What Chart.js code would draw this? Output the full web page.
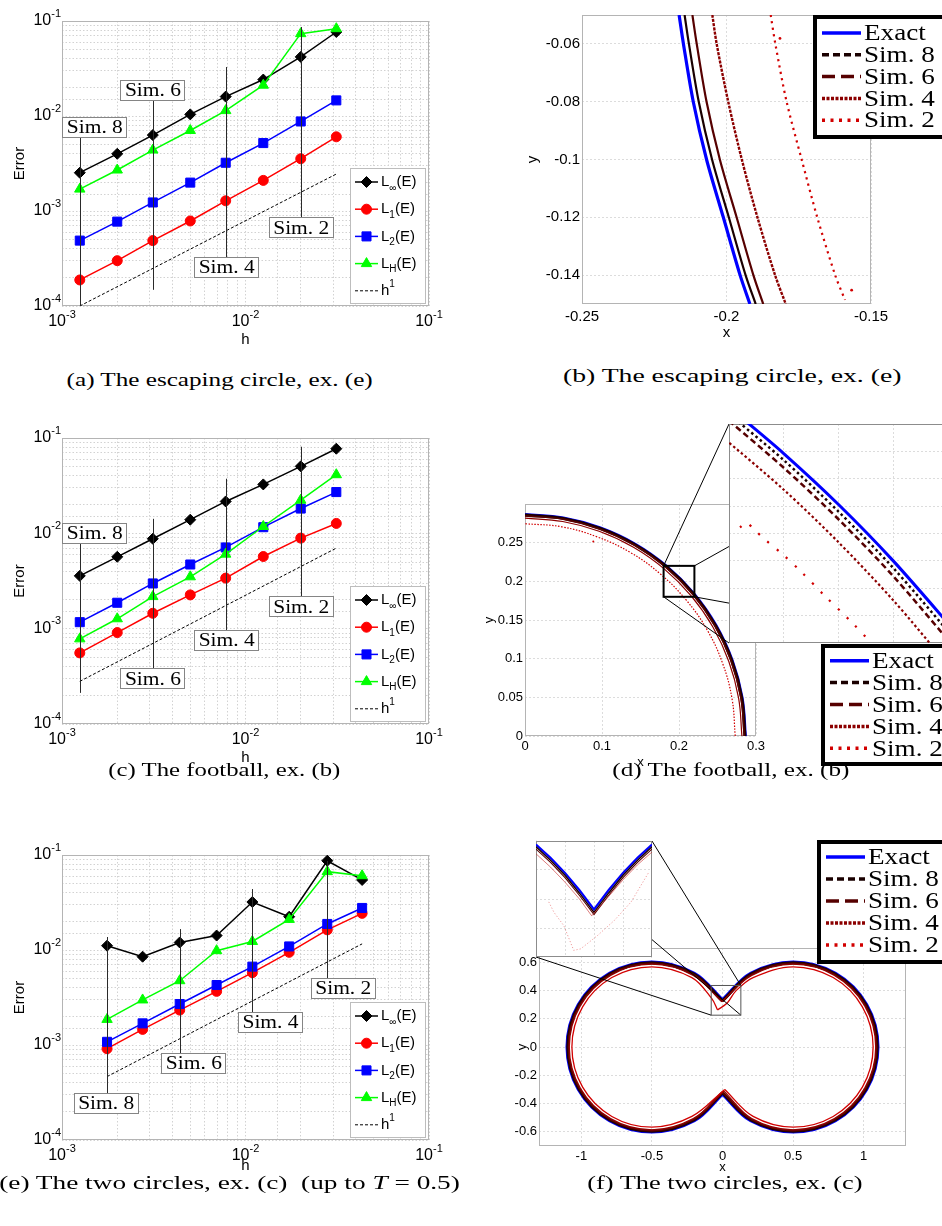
<!DOCTYPE html>
<html>
<head>
<meta charset="utf-8">
<title>Escaping circle, football and two circles</title>
<script src="https://cdn.jsdelivr.net/npm/chart.js@4.4.1/dist/chart.umd.min.js"></script>
<style>
  html, body { margin: 0; padding: 0; background: #fff; }
  body { position: relative; width: 942px; height: 1226px; overflow: hidden; }
  canvas { position: absolute; }
  .cap { position: absolute; width: 520px; text-align: center; white-space: nowrap; line-height: 22px;
         font-family: "Liberation Serif", "Times New Roman", serif; font-size: 19.5px; color: #000; }
  .cap span { display: inline-block; }
</style>
</head>
<body>
<canvas id="chartA"></canvas>
<canvas id="chartB"></canvas>
<canvas id="chartC"></canvas>
<canvas id="chartD"></canvas>
<canvas id="insetD"></canvas>
<canvas id="chartE"></canvas>
<canvas id="chartF"></canvas>
<canvas id="insetF"></canvas>

<div class="cap" style="left:-40px;top:369px"><span style="transform:scaleX(1.29)">(a) The escaping circle, ex. (e)</span></div>
<div class="cap" style="left:472px;top:365px"><span style="transform:scaleX(1.42)">(b) The escaping circle, ex. (e)</span></div>
<div class="cap" style="left:-36px;top:759px"><span style="transform:scaleX(1.27)">(c) The football, ex. (b)</span></div>
<div class="cap" style="left:471px;top:759px"><span style="transform:scaleX(1.29)">(d) The football, ex. (b)</span></div>
<div class="cap" style="left:-30px;top:1172px"><span style="transform:scaleX(1.40)">(e) The two circles, ex. (c)&nbsp;&nbsp;(up to <i>T</i> = 0.5)</span></div>
<div class="cap" style="left:465px;top:1172px"><span style="transform:scaleX(1.35)">(f) The two circles, ex. (c)</span></div>

<script>
// ---------- error plots (a), (c), (e) ----------
const hA = [0.00125, 0.002, 0.003125, 0.005, 0.0078, 0.0125, 0.02, 0.03125];
const aLinf = [2.53e-3, 4.0e-3, 6.3e-3, 1.04e-2, 1.6e-2, 2.42e-2, 4.19e-2, 7.66e-2];
const aL1 = [1.88e-4, 3.0e-4, 4.88e-4, 7.85e-4, 1.28e-3, 2.1e-3, 3.55e-3, 6.04e-3];
const aL2 = [4.88e-4, 7.73e-4, 1.23e-3, 1.99e-3, 3.22e-3, 5.19e-3, 8.76e-3, 1.46e-2];
const aLH = [1.70e-3, 2.7e-3, 4.38e-3, 7.04e-3, 1.14e-2, 2.11e-2, 7.36e-2, 8.3e-2];
const aRefH = [0.00125, 0.03125];
const aRefE = [1.0e-4, 2.45e-3];

const hC = [0.00125, 0.002, 0.003125, 0.005, 0.0078, 0.0125, 0.02, 0.03125];
const cLinf = [3.58e-3, 5.67e-3, 8.77e-3, 1.39e-2, 2.16e-2, 3.26e-2, 5.04e-2, 7.72e-2];
const cL1 = [5.57e-4, 9.1e-4, 1.45e-3, 2.26e-3, 3.39e-3, 5.71e-3, 8.91e-3, 1.27e-2];
const cL2 = [1.17e-3, 1.87e-3, 2.98e-3, 4.71e-3, 7.11e-3, 1.16e-2, 1.82e-2, 2.71e-2];
const cLH = [7.82e-4, 1.27e-3, 2.17e-3, 3.50e-3, 6.05e-3, 1.18e-2, 2.23e-2, 4.12e-2];
const cRefH = [0.00125, 0.03125];
const cRefE = [2.8e-4, 7.0e-3];

const hE = [1.76e-3, 2.75e-3, 4.38e-3, 6.96e-3, 1.09e-2, 1.73e-2, 2.79e-2, 4.32e-2];
const eLinf = [1.11e-2, 8.5e-3, 1.2e-2, 1.42e-2, 3.2e-2, 2.24e-2, 8.7e-2, 5.46e-2];
const eL1 = [9.14e-4, 1.46e-3, 2.33e-3, 3.67e-3, 5.77e-3, 9.45e-3, 1.63e-2, 2.43e-2];
const eL2 = [1.08e-3, 1.69e-3, 2.70e-3, 4.28e-3, 6.68e-3, 1.09e-2, 1.88e-2, 2.77e-2];
const eLH = [1.86e-3, 2.98e-3, 4.75e-3, 9.84e-3, 1.23e-2, 2.1e-2, 6.68e-2, 6.05e-2];
const eRefH = [1.76e-3, 4.32e-2];
const eRefE = [4.65e-4, 1.16e-2];

// "Sim. n" call-outs: line x, far end of line, label anchor (all in data units)
const simLabels = ['Sim. 8', 'Sim. 6', 'Sim. 4', 'Sim. 2'];
const aNoteH = [0.00125, 0.003125, 0.0078, 0.02];
const aNoteEnd = [1.0e-4, 1.48e-4, 3.28e-2, 8.65e-2];
const aNoteX = [1.5e-3, 3.11e-3, 7.85e-3, 2.0e-2];
const aNoteY = [7.7e-3, 1.88e-2, 2.59e-4, 6.74e-4];
const cNoteH = [0.00125, 0.003125, 0.0078, 0.02];
const cNoteEnd = [2.12e-4, 1.42e-2, 3.74e-2, 8.1e-2];
const cNoteX = [1.5e-3, 3.11e-3, 7.85e-3, 2.0e-2];
const cNoteY = [1.01e-2, 3.02e-4, 7.65e-4, 1.72e-3];
const eNoteH = [1.76e-3, 4.38e-3, 1.09e-2, 2.79e-2];
const eNoteEnd = [1.37e-2, 1.66e-2, 4.38e-2, 8.65e-2];
const eNoteX = [1.73e-3, 5.2e-3, 1.36e-2, 3.39e-2];
const eNoteY = [2.48e-4, 6.54e-4, 1.75e-3, 3.98e-3];

const hDecades = [1e-3, 1e-2, 1e-1];
const hDecadeExp = ['-3', '-2', '-1'];
const errDecades = [1e-4, 1e-3, 1e-2, 1e-1];
const errDecadeExp = ['-4', '-3', '-2', '-1'];

const errKeys = [['L', '\u221e', '(E)', 'sub'], ['L', '1', '(E)', 'sub'], ['L', '2', '(E)', 'sub'],
                 ['L', 'H', '(E)', 'sub'], ['h', '1', '', 'sup']];
const errColors = ['#000000', '#ff0000', '#0000ff', '#00ff00'];
const errMarkers = ['rectRot', 'circle', 'rect', 'triangle'];
const errRadius = [5.5, 5, 6.4, 6];

// ---------- interface plots (b), (d), (f) ----------
const simNames = ['Exact', 'Sim. 8', 'Sim. 6', 'Sim. 4', 'Sim. 2'];
const simColors = ['#0000ff', '#1a0000', '#560000', '#8c0000', '#d20000'];
const simLegendDash = [[], [7, 4], [13, 6], [3, 1.5], [3, 5.5]];

// (b) escaping circle, close-up
const bY = [-0.05, -0.06, -0.08, -0.10, -0.12, -0.14, -0.15];
const bExactX = [-0.2164, -0.2149, -0.2115, -0.2069, -0.2011, -0.1953, -0.1919];
const bSim8X = [-0.2145, -0.2130, -0.2096, -0.2050, -0.1992, -0.1934, -0.1899];
const bSim6X = [-0.2118, -0.2103, -0.2069, -0.2023, -0.1965, -0.1907, -0.1873];
const bSim4X = [-0.2049, -0.2034, -0.1994, -0.1947, -0.1893, -0.1832, -0.1795];
const bSim2X = [-0.1847, -0.1831, -0.1792, -0.1740, -0.1686, -0.1624, -0.1590];
const bSim2Y = [-0.05, -0.06, -0.08, -0.10, -0.12, -0.14, -0.1486];
const bStrayX = [-0.1815, -0.1567];
const bStrayY = [-0.0581, -0.1452];

// (d) football, quarter arc
const dExactX = [0.2866, 0.2822, 0.2693, 0.2482, 0.2195, 0.1842, 0.1433, 0.0980, 0.0498, 0];
const dExactY = [0, 0.0498, 0.0980, 0.1433, 0.1842, 0.2195, 0.2482, 0.2693, 0.2822, 0.2866];
const dSim8X = [0.2857, 0.2814, 0.2685, 0.2474, 0.2189, 0.1836, 0.1429, 0.0977, 0.0496, 0];
const dSim8Y = [0, 0.0496, 0.0977, 0.1429, 0.1836, 0.2189, 0.2474, 0.2685, 0.2814, 0.2857];
const dSim6X = [0.2847, 0.2804, 0.2675, 0.2466, 0.2181, 0.1830, 0.1424, 0.0974, 0.0494, 0];
const dSim6Y = [0, 0.0494, 0.0974, 0.1424, 0.1830, 0.2181, 0.2466, 0.2675, 0.2804, 0.2847];
const dSim4X = [0.2817, 0.2774, 0.2647, 0.2440, 0.2158, 0.1811, 0.1409, 0.0963, 0.0489, 0];
const dSim4Y = [0, 0.0489, 0.0963, 0.1409, 0.1811, 0.2158, 0.2440, 0.2647, 0.2774, 0.2817];
const dSim2X = [0.2730, 0.2690, 0.2568, 0.2368, 0.2095, 0.1758, 0.1370, 0.0937, 0.0477, 0];
const dSim2Y = [0, 0.0474, 0.0935, 0.1368, 0.1756, 0.2095, 0.2372, 0.2575, 0.2705, 0.2745];
const dStrayX = [0.0887];
const dStrayY = [0.2515];
// (d) inset, [0.18, 0.22] x [0.18, 0.22]
const dInExactX = [0.182, 0.190, 0.200, 0.210, 0.222];
const dInExactY = [0.2214, 0.2146, 0.2053, 0.1950, 0.1813];
const dInSim8X = [0.181, 0.190, 0.200, 0.210, 0.222];
const dInSim8Y = [0.2210, 0.2134, 0.2040, 0.1937, 0.1798];
const dInSim6X = [0.180, 0.190, 0.200, 0.210, 0.222];
const dInSim6Y = [0.2206, 0.2120, 0.2026, 0.1922, 0.1782];
const dInSim4X = [0.178, 0.190, 0.200, 0.210, 0.220];
const dInSim4Y = [0.2183, 0.2080, 0.1984, 0.1878, 0.1760];
const dInSim2X = [0.1820, 0.1832, 0.1844, 0.1867, 0.1899, 0.1932, 0.1975, 0.2024, 0.2060];
const dInSim2Y = [0.2011, 0.2020, 0.2009, 0.1988, 0.1961, 0.1930, 0.1886, 0.1838, 0.1800];

// (f) two circles, right and left lobes
const fExactRX = [0.000, 0.200, 0.500, 0.800, 1.020, 1.100, 1.020, 0.800, 0.500, 0.200, 0.000];
const fExactLX = [0.000, -0.200, -0.500, -0.800, -1.020, -1.100, -1.020, -0.800, -0.500, -0.200, 0.000];
const fExactY = [0.332, 0.520, 0.600, 0.520, 0.300, 0, -0.300, -0.520, -0.600, -0.520, -0.332];
const fSim8RX = [0.000, 0.202, 0.500, 0.798, 1.016, 1.096, 1.016, 0.798, 0.500, 0.202, 0.000];
const fSim8LX = [0.000, -0.202, -0.500, -0.798, -1.016, -1.096, -1.016, -0.798, -0.500, -0.202, 0.000];
const fSim8Y = [0.326, 0.516, 0.596, 0.516, 0.298, 0, -0.298, -0.516, -0.596, -0.516, -0.324];
const fSim6RX = [0.000, 0.204, 0.500, 0.796, 1.013, 1.092, 1.013, 0.796, 0.500, 0.204, 0.000];
const fSim6LX = [0.000, -0.204, -0.500, -0.796, -1.013, -1.092, -1.013, -0.796, -0.500, -0.204, 0.000];
const fSim6Y = [0.322, 0.513, 0.592, 0.513, 0.296, 0, -0.296, -0.513, -0.592, -0.513, -0.320];
const fSim4RX = [-0.004, 0.207, 0.500, 0.793, 1.007, 1.086, 1.007, 0.793, 0.500, 0.207, 0.010];
const fSim4LX = [-0.004, -0.207, -0.500, -0.793, -1.007, -1.086, -1.007, -0.793, -0.500, -0.207, 0.010];
const fSim4Y = [0.320, 0.507, 0.586, 0.507, 0.293, 0, -0.293, -0.507, -0.586, -0.507, -0.312];
const fSim2RX = [-0.035, 0.035, 0.095, 0.217, 0.500, 0.784, 0.991, 1.067, 0.991, 0.784, 0.500, 0.217, 0.016];
const fSim2RY = [0.262, 0.313, 0.397, 0.491, 0.567, 0.491, 0.284, 0, -0.284, -0.491, -0.567, -0.491, -0.300];
const fSim2LX = [-0.035, -0.078, -0.217, -0.500, -0.784, -0.991, -1.067, -0.991, -0.784, -0.500, -0.217, 0.016];
const fSim2LY = [0.262, 0.345, 0.491, 0.567, 0.491, 0.284, 0, -0.284, -0.491, -0.567, -0.491, -0.300];
// (f) inset, [-0.1, 0.1] x [0.25, 0.45]
const fInX = [-0.1, -0.075, -0.05, -0.025, 0, 0.025, 0.05, 0.075, 0.1];
const fInExactY = [0.444, 0.421, 0.395, 0.365, 0.332, 0.365, 0.395, 0.421, 0.444];
const fInSim8Y = [0.440, 0.417, 0.391, 0.360, 0.327, 0.360, 0.391, 0.417, 0.440];
const fInSim6Y = [0.436, 0.413, 0.387, 0.356, 0.323, 0.356, 0.387, 0.413, 0.436];
const fInSim4X = [-0.1, -0.075, -0.05, -0.025, -0.004, 0.025, 0.05, 0.075, 0.1];
const fInSim4Y = [0.428, 0.405, 0.379, 0.350, 0.321, 0.354, 0.383, 0.409, 0.431];
const fInSim2X = [-0.078, -0.069, -0.052, -0.035, -0.023, 0.006, 0.035, 0.064, 0.095];
const fInSim2Y = [0.345, 0.327, 0.304, 0.2615, 0.264, 0.287, 0.313, 0.345, 0.397];

// tick labels of the linear plots
const bXTicks = [-0.25, -0.2, -0.15], bXLabels = ['-0.25', '-0.2', '-0.15'];
const bYTicks = [-0.14, -0.12, -0.1, -0.08, -0.06], bYLabels = ['-0.14', '-0.12', '-0.1', '-0.08', '-0.06'];
const dXTicks = [0, 0.1, 0.2, 0.3], dXLabels = ['0', '0.1', '0.2', '0.3'];
const dYTicks = [0, 0.05, 0.1, 0.15, 0.2, 0.25], dYLabels = ['0', '0.05', '0.1', '0.15', '0.2', '0.25'];
const fXTicks = [-1, -0.5, 0, 0.5, 1], fXLabels = ['-1', '-0.5', '0', '0.5', '1'];
const fYTicks = [-0.6, -0.4, -0.2, 0, 0.2, 0.4, 0.6], fYLabels = ['-0.6', '-0.4', '-0.2', '0', '0.2', '0.4', '0.6'];
const dInGridX = [0.19, 0.2, 0.21], dInGridY = [0.185, 0.19, 0.195, 0.2, 0.205, 0.21, 0.215];
const fInGridX = [-0.05, 0, 0.05], fInGridY = [0.3, 0.35, 0.4];

// ---------- drawing helpers ----------
const SANS = '"Liberation Sans", Arial, Helvetica, sans-serif';
const SERIF = '"Liberation Serif", "Times New Roman", serif';
const WIDE = 1.13;       // LaTeX roman runs a bit wider than Times
const GRID = '#d2d2d2';

Chart.defaults.font.family = SANS;

function pts(xs, ys) { return xs.map((x, i) => ({ x: x, y: ys[i] })); }

function wideText(ctx, text, x, y, size, align) {
  ctx.font = size + 'px ' + SERIF;
  const w = ctx.measureText(text).width * WIDE;
  const x0 = align === 'center' ? x - w / 2 : x;
  ctx.save();
  ctx.translate(x0, y);
  ctx.scale(WIDE, 1);
  ctx.textAlign = 'left';
  ctx.textBaseline = 'middle';
  ctx.fillText(text, 0, 0);
  ctx.restore();
  return w;
}

function powLabel(ctx, exp, x, y, align) {
  ctx.textAlign = 'left';
  ctx.textBaseline = 'middle';
  ctx.font = '16px ' + SANS;
  const wb = ctx.measureText('10').width;
  ctx.font = '11px ' + SANS;
  const we = ctx.measureText(exp).width;
  const x0 = align === 'right' ? x - wb - we : x - (wb + we) / 2;
  ctx.font = '16px ' + SANS;
  ctx.fillText('10', x0, y);
  ctx.font = '11px ' + SANS;
  ctx.fillText(exp, x0 + wb, y - 7.5);
}

// axes box (and white background for the insets)
const framePlugin = {
  id: 'frame',
  beforeDraw(chart, args, o) {
    if (!o.fill) return;
    const ctx = chart.ctx;
    ctx.save();
    ctx.fillStyle = '#fff';
    ctx.fillRect(0, 0, chart.width, chart.height);
    ctx.restore();
  },
  beforeDatasetsDraw(chart, args, o) {
    const a = chart.chartArea, ctx = chart.ctx;
    ctx.save();
    ctx.strokeStyle = o.color || '#b4b4b4';
    ctx.lineWidth = 1;
    ctx.strokeRect(Math.round(a.left) + 0.5, Math.round(a.top) + 0.5,
                   Math.round(a.right - a.left) - 1, Math.round(a.bottom - a.top) - 1);
    ctx.restore();
  }
};

// 10^n labels of the log axes
const decadePlugin = {
  id: 'decades',
  afterDraw(chart, args, o) {
    const ctx = chart.ctx, sx = chart.scales.x, sy = chart.scales.y, a = chart.chartArea;
    ctx.save();
    ctx.fillStyle = '#000';
    o.x.forEach((v, i) => powLabel(ctx, o.xExp[i], sx.getPixelForValue(v), a.bottom + 16, 'center'));
    o.y.forEach((v, i) => powLabel(ctx, o.yExp[i], a.left - 1, sy.getPixelForValue(v), 'right'));
    ctx.restore();
  }
};

// boxed "Sim. n" labels with their vertical lines
const notesPlugin = {
  id: 'simNotes',
  afterDatasetsDraw(chart, args, o) {
    const ctx = chart.ctx, sx = chart.scales.x, sy = chart.scales.y;
    ctx.save();
    o.notes.forEach(n => {
      const px = Math.round(sx.getPixelForValue(n.h)) + 0.5;
      const bx = sx.getPixelForValue(n.bx), by = sy.getPixelForValue(n.by);
      ctx.strokeStyle = '#2a2a2a';
      ctx.lineWidth = 1;
      ctx.beginPath();
      ctx.moveTo(px, sy.getPixelForValue(n.end));
      ctx.lineTo(px, by);
      ctx.stroke();
      ctx.font = '19px ' + SERIF;
      const w = Math.round(ctx.measureText(n.text).width * WIDE + 8), hgt = 20;
      const x0 = Math.round(bx - w / 2), y0 = Math.round(by - hgt / 2);
      ctx.fillStyle = '#fff';
      ctx.fillRect(x0, y0, w, hgt);
      ctx.strokeStyle = '#858585';
      ctx.strokeRect(x0 + 0.5, y0 + 0.5, w, hgt);
      ctx.fillStyle = '#000';
      wideText(ctx, n.text, bx + 0.5, by + 1.5, 19, 'center');
    });
    ctx.restore();
  }
};

// legend of the error plots, with sub/superscripts
const errLegendPlugin = {
  id: 'errLegend',
  afterDraw(chart, args, o) {
    const ctx = chart.ctx, a = chart.chartArea;
    const bx = Math.round(a.right - 4 - o.w), by = Math.round(a.bottom - 3 - o.h);
    ctx.save();
    ctx.fillStyle = '#fff';
    ctx.fillRect(bx, by, o.w, o.h);
    ctx.strokeStyle = '#bdbdbd';
    ctx.lineWidth = 1;
    ctx.strokeRect(bx + 0.5, by + 0.5, o.w, o.h);
    let row = 0;
    chart.data.datasets.forEach(ds => {
      if (!ds.key) return;
      const yy = by + 14 + row * 27.2;
      row++;
      ctx.strokeStyle = ds.borderColor;
      ctx.lineWidth = ds.borderWidth;
      ctx.setLineDash(ds.borderDash || []);
      ctx.beginPath();
      ctx.moveTo(bx + 5, yy);
      ctx.lineTo(bx + 28, yy);
      ctx.stroke();
      ctx.setLineDash([]);
      if (ds.pointRadius > 0) {
        ctx.fillStyle = ds.backgroundColor;
        ctx.lineWidth = 1;
        Chart.helpers.drawPoint(ctx, { pointStyle: ds.pointStyle, radius: ds.pointRadius, rotation: 0, borderWidth: 1 }, bx + 16.5, yy);
      }
      const [main, small, rest, kind] = ds.key;
      let tx = bx + 31;
      ctx.fillStyle = '#000';
      ctx.textAlign = 'left';
      ctx.textBaseline = 'middle';
      ctx.font = '15px ' + SANS;
      ctx.fillText(main, tx, yy);
      tx += ctx.measureText(main).width;
      ctx.font = '10px ' + SANS;
      ctx.fillText(small, tx, kind === 'sub' ? yy + 6 : yy - 7);
      tx += ctx.measureText(small).width;
      ctx.font = '15px ' + SANS;
      ctx.fillText(rest, tx, yy);
    });
    ctx.restore();
  }
};

// thick-framed legend of the interface plots
const simLegendPlugin = {
  id: 'simLegend',
  afterDraw(chart, args, o) {
    const ctx = chart.ctx;
    ctx.save();
    ctx.fillStyle = '#fff';
    ctx.fillRect(o.x, o.y, o.w, o.h);
    ctx.strokeStyle = '#000';
    ctx.lineWidth = 4;
    ctx.strokeRect(o.x, o.y, o.w, o.h);
    simNames.forEach((name, i) => {
      const yy = o.y + o.row0 + i * o.step;
      ctx.strokeStyle = simColors[i];
      ctx.lineWidth = 3.5;
      ctx.setLineDash(simLegendDash[i]);
      ctx.beginPath();
      ctx.moveTo(o.x + 7, yy);
      ctx.lineTo(o.x + 46, yy);
      ctx.stroke();
      ctx.setLineDash([]);
      ctx.fillStyle = '#000';
      wideText(ctx, name, o.x + 49, yy + 1, 24, 'left');
    });
    ctx.restore();
  }
};

// zoom rectangle and the lines joining it to the inset
const zoomPlugin = {
  id: 'zoomBox',
  afterDraw(chart, args, o) {
    const ctx = chart.ctx, sx = chart.scales.x, sy = chart.scales.y;
    const X0 = sx.getPixelForValue(o.box[0]), X1 = sx.getPixelForValue(o.box[1]);
    const Yt = sy.getPixelForValue(o.box[3]), Yb = sy.getPixelForValue(o.box[2]);
    const box = { tl: [X0, Yt], tr: [X1, Yt], br: [X1, Yb], bl: [X0, Yb] };
    const L = o.inset.left - o.origin.left, T = o.inset.top - o.origin.top, S = o.inset.size;
    const ins = { tl: [L, T], tr: [L + S, T], br: [L + S, T + S], bl: [L, T + S] };
    ctx.save();
    ctx.strokeStyle = '#000';
    ctx.lineWidth = 1;
    o.links.forEach(([b, i]) => {
      ctx.beginPath();
      ctx.moveTo(box[b][0], box[b][1]);
      ctx.lineTo(ins[i][0], ins[i][1]);
      ctx.stroke();
    });
    ctx.strokeStyle = o.boxColor;
    ctx.lineWidth = o.boxWidth;
    ctx.strokeRect(X0, Yt, X1 - X0, Yb - Yt);
    ctx.restore();
  }
};

// canvas placement: canvas [left, top, w, h] and plot box [l, t, r, b] in page pixels
function place(id, c, p) {
  const el = document.getElementById(id);
  el.style.left = c[0] + 'px';
  el.style.top = c[1] + 'px';
  el.width = c[2];
  el.height = c[3];
  return {
    el: el,
    padding: { left: 0, top: p[1] - c[1], right: c[0] + c[2] - p[2], bottom: 0 },
    yW: p[0] - c[0],
    xH: c[1] + c[3] - p[3]
  };
}

function errorChart(id, canvasBox, plotBox, h, series, refH, refE, notes, hPad) {
  const g = place(id, canvasBox, plotBox);
  const datasets = series.map((vals, i) => ({
    data: pts(h, vals), key: errKeys[i], order: 10 - i,
    borderColor: errColors[i], backgroundColor: errColors[i], borderWidth: 1.5,
    pointStyle: errMarkers[i], pointRadius: errRadius[i], pointBorderWidth: 1,
    showLine: true, tension: 0
  }));
  datasets.push({
    data: pts(refH, refE), key: errKeys[4], order: 0,
    borderColor: '#000', backgroundColor: '#000', borderWidth: 1, borderDash: [3, 2],
    pointRadius: 0, showLine: true
  });
  const logAxis = (min, max, title, pad, isY) => ({
    type: 'logarithmic', min: min, max: max,
    grid: { color: GRID, drawTicks: false, lineWidth: 1 },
    border: { display: false, dash: [1.5, 2] },
    ticks: { display: false, autoSkip: false },
    title: { display: true, text: title, color: '#000', font: { family: SANS, size: 15 }, padding: pad },
    afterFit: s => { if (isY) s.width = g.yW; else s.height = g.xH; }
  });
  return new Chart(g.el, {
    type: 'scatter',
    data: { datasets: datasets },
    options: {
      responsive: false, animation: false, events: [],
      layout: { padding: g.padding },
      plugins: {
        legend: { display: false }, tooltip: { enabled: false },
        frame: {},
        decades: { x: hDecades, xExp: hDecadeExp, y: errDecades, yExp: errDecadeExp },
        simNotes: { notes: notes },
        errLegend: { w: 75, h: 135 }
      },
      scales: {
        x: logAxis(1e-3, 1e-1, 'h', hPad, false),
        y: logAxis(1e-4, 1e-1, 'Error', 11, true)
      }
    },
    plugins: [framePlugin, notesPlugin, decadePlugin, errLegendPlugin]
  });
}

function notesFrom(hs, ends, xs, ys) {
  return simLabels.map((t, i) => ({ text: t, h: hs[i], end: ends[i], bx: xs[i], by: ys[i] }));
}

function curve(xs, ys, i, width, dash, tension, color) {
  return {
    data: pts(xs, ys), borderColor: color || simColors[i], backgroundColor: color || simColors[i],
    borderWidth: width, borderDash: dash, pointRadius: 0, showLine: true, tension: tension, order: 10 - i
  };
}

function strays(xs, ys, r) {
  return { data: pts(xs, ys), backgroundColor: simColors[4], borderWidth: 0, pointRadius: r, showLine: false, order: 0 };
}

function linAxis(a, isY, extent) {
  return {
    type: 'linear', min: a.min, max: a.max,
    grid: { color: '#dcdcdc', drawTicks: false, lineWidth: 1 },
    border: { display: false, dash: [2, 2] },
    afterBuildTicks: s => { s.ticks = a.ticks.map(v => ({ value: v })); },
    ticks: {
      autoSkip: false, maxRotation: 0, padding: a.tickPad, color: '#000',
      font: { family: SANS, size: a.size },
      callback: (v, i) => a.labels[i]
    },
    title: { display: true, text: a.title, color: '#000', font: { family: SANS, size: a.size }, padding: a.titlePad },
    afterFit: s => { if (isY) s.width = extent; else s.height = extent; }
  };
}

function simChart(id, canvasBox, plotBox, ax, ay, datasets, legend, zoom) {
  const g = place(id, canvasBox, plotBox);
  const plugins = [framePlugin];
  if (zoom) plugins.push(zoomPlugin);
  plugins.push(simLegendPlugin);
  return new Chart(g.el, {
    type: 'scatter',
    data: { datasets: datasets },
    options: {
      responsive: false, animation: false, events: [],
      layout: { padding: g.padding },
      plugins: {
        legend: { display: false }, tooltip: { enabled: false },
        frame: {}, simLegend: legend, zoomBox: zoom || {}
      },
      scales: { x: linAxis(ax, false, g.xH), y: linAxis(ay, true, g.yW) }
    },
    plugins: plugins
  });
}

function insetChart(id, box, lim, gridX, gridY, datasets) {
  const el = document.getElementById(id);
  el.style.left = box.left + 'px';
  el.style.top = box.top + 'px';
  el.width = box.size;
  el.height = box.size;
  const axis = (range, grid, isY) => ({
    type: 'linear', min: range[0], max: range[1],
    grid: { color: '#dcdcdc', drawTicks: false, lineWidth: 1 },
    border: { display: false, dash: [2, 2] },
    afterBuildTicks: s => { s.ticks = grid.map(v => ({ value: v })); },
    ticks: { display: false },
    afterFit: s => { if (isY) s.width = 0; else s.height = 0; }
  });
  return new Chart(el, {
    type: 'scatter',
    data: { datasets: datasets },
    options: {
      responsive: false, animation: false, events: [],
      layout: { padding: 0 },
      plugins: { legend: { display: false }, tooltip: { enabled: false }, frame: { fill: true, color: '#8c8c8c' } },
      scales: { x: axis(lim.x, gridX, false), y: axis(lim.y, gridY, true) }
    },
    plugins: [framePlugin]
  });
}

// ---------- build ----------
errorChart('chartA', [0, 0, 470, 362], [62, 21, 429, 306], hA, [aLinf, aL1, aL2, aLH], aRefH, aRefE,
           notesFrom(aNoteH, aNoteEnd, aNoteX, aNoteY), 13);
errorChart('chartC', [0, 418, 470, 362], [62, 438, 429, 724], hC, [cLinf, cL1, cL2, cLH], cRefH, cRefE,
           notesFrom(cNoteH, cNoteEnd, cNoteX, cNoteY), 13);
errorChart('chartE', [0, 834, 470, 346], [62, 855, 429, 1140], hE, [eLinf, eL1, eL2, eLH], eRefH, eRefE,
           notesFrom(eNoteH, eNoteEnd, eNoteX, eNoteY), 5);

simChart('chartB', [500, 0, 450, 362], [582, 15, 871, 304],
  { min: -0.25, max: -0.15, ticks: bXTicks, labels: bXLabels, size: 15, tickPad: 4, title: 'x', titlePad: 20 },
  { min: -0.15, max: -0.05, ticks: bYTicks, labels: bYLabels, size: 15, tickPad: 2, title: 'y', titlePad: 24 },
  [
    curve(bExactX, bY, 0, 3.2, [], 0.3),
    curve(bSim8X, bY, 1, 2.2, [], 0.3),
    curve(bSim6X, bY, 2, 2.2, [], 0.3),
    curve(bSim4X, bY, 3, 2.4, [3, 1.2], 0.3),
    curve(bSim2X, bSim2Y, 4, 2.2, [2.2, 4.2], 0.3),
    strays(bStrayX, bStrayY, 1.4)
  ],
  { x: 315, y: 17, w: 150, h: 120, row0: 16, step: 21.8 });

const INSET_D = { left: 729, top: 424, size: 219 };
simChart('chartD', [480, 410, 470, 362], [525, 504, 756, 736],
  { min: 0, max: 0.3, ticks: dXTicks, labels: dXLabels, size: 13, tickPad: 3, title: 'x', titlePad: 2 },
  { min: 0, max: 0.3, ticks: dYTicks, labels: dYLabels, size: 13, tickPad: 2, title: 'y', titlePad: 2 },
  [
    curve(dExactX, dExactY, 0, 2.5, [], 0.4),
    curve(dSim8X, dSim8Y, 1, 3, [], 0.4),
    curve(dSim6X, dSim6Y, 2, 1.6, [], 0.4),
    curve(dSim4X, dSim4Y, 3, 1.2, [], 0.4),
    curve(dSim2X, dSim2Y, 4, 1.2, [1.5, 1.5], 0.4),
    strays(dStrayX, dStrayY, 1)
  ],
  { x: 343, y: 236, w: 140, h: 118, row0: 14.7, step: 21.9 },
  { box: [0.18, 0.22, 0.18, 0.22], inset: INSET_D, origin: { left: 480, top: 410 },
    links: [['tl', 'tl'], ['tr', 'tr'], ['br', 'br'], ['bl', 'bl']], boxColor: '#000', boxWidth: 2 });
insetChart('insetD', INSET_D, { x: [0.18, 0.22], y: [0.18, 0.22] }, dInGridX, dInGridY, [
  curve(dInExactX, dInExactY, 0, 3, [], 0.3),
  curve(dInSim8X, dInSim8Y, 1, 2.5, [2.5, 3], 0.3),
  curve(dInSim6X, dInSim6Y, 2, 2.5, [6, 3.5], 0.3),
  curve(dInSim4X, dInSim4Y, 3, 2.2, [2.5, 2.5], 0.3),
  curve(dInSim2X, dInSim2Y, 4, 2.2, [2.2, 10], 0.3)
]);

const INSET_F = { left: 536, top: 841, size: 116 };
simChart('chartF', [500, 830, 450, 345], [539, 948, 906, 1146],
  { min: -1.3, max: 1.3, ticks: fXTicks, labels: fXLabels, size: 13, tickPad: 3, title: 'x', titlePad: 0 },
  { min: -0.7, max: 0.7, ticks: fYTicks, labels: fYLabels, size: 13, tickPad: 2, title: 'y', titlePad: 15 },
  [
    curve(fExactRX, fExactY, 0, 3.5, [], 0.35), curve(fExactLX, fExactY, 0, 3.5, [], 0.35),
    curve(fSim8RX, fSim8Y, 1, 3, [], 0.35), curve(fSim8LX, fSim8Y, 1, 3, [], 0.35),
    curve(fSim6RX, fSim6Y, 2, 1.8, [], 0.35), curve(fSim6LX, fSim6Y, 2, 1.8, [], 0.35),
    curve(fSim4RX, fSim4Y, 3, 1.4, [], 0.35), curve(fSim4LX, fSim4Y, 3, 1.4, [], 0.35),
    curve(fSim2RX, fSim2RY, 4, 1.3, [], 0.35), curve(fSim2LX, fSim2LY, 4, 1.3, [], 0.35)
  ],
  { x: 319, y: 12, w: 140, h: 120, row0: 15, step: 22 },
  { box: [-0.08, 0.13, 0.225, 0.435], inset: INSET_F, origin: { left: 500, top: 830 },
    links: [['tr', 'tr'], ['br', 'tl'], ['bl', 'bl']], boxColor: '#555', boxWidth: 1 });
insetChart('insetF', INSET_F, { x: [-0.1, 0.1], y: [0.25, 0.45] }, fInGridX, fInGridY, [
  curve(fInX, fInExactY, 0, 2.2, [], 0),
  curve(fInX, fInSim8Y, 1, 1.4, [], 0),
  curve(fInX, fInSim6Y, 2, 1.1, [], 0),
  curve(fInSim4X, fInSim4Y, 3, 1, [], 0, 'rgba(200,40,40,0.6)'),
  curve(fInSim2X, fInSim2Y, 4, 1, [1.2, 2], 0, 'rgba(225,60,60,0.5)')
]);
</script>
</body>
</html>
